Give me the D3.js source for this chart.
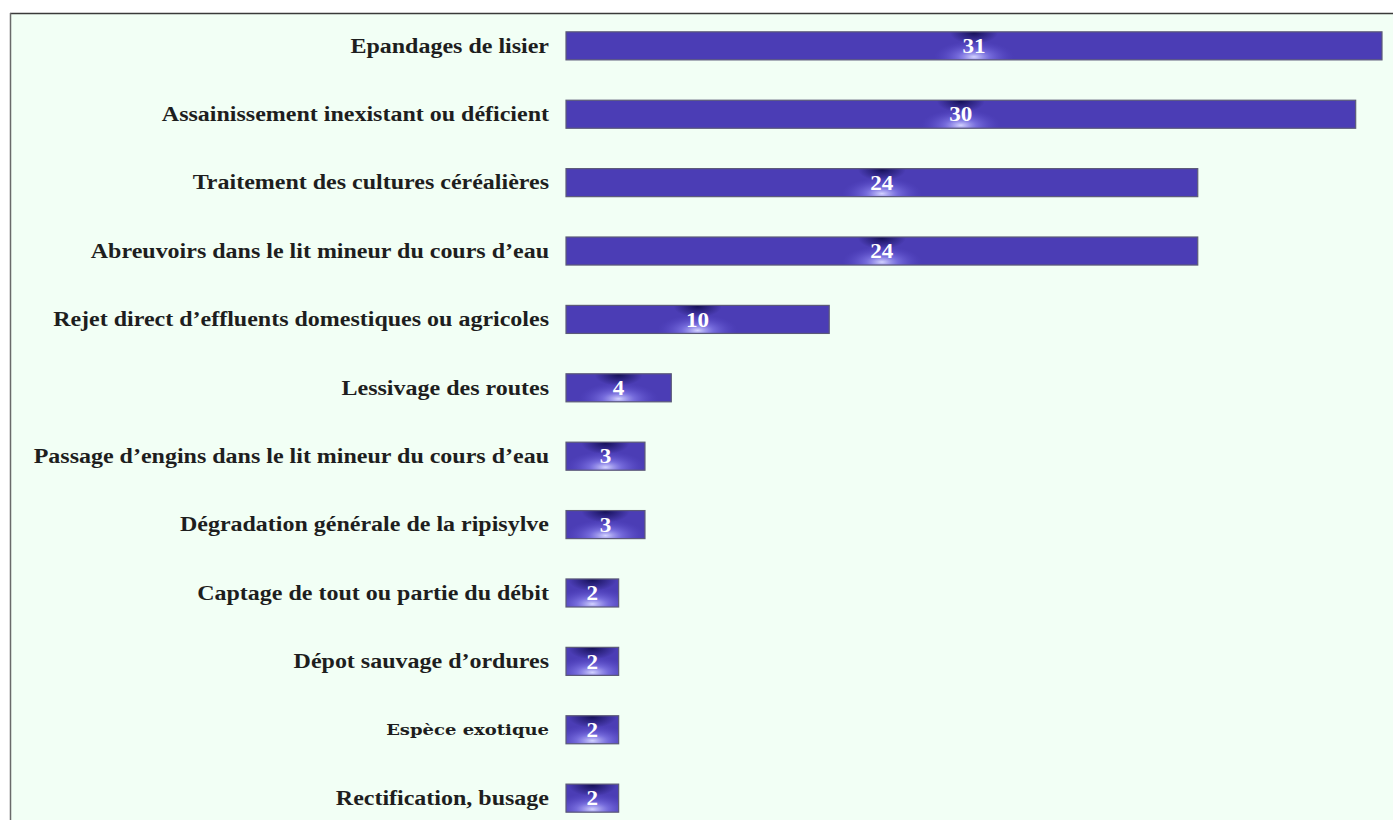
<!DOCTYPE html>
<html>
<head>
<meta charset="utf-8">
<script src="https://cdn.jsdelivr.net/npm/d3@7"></script>
<style>
  html, body { margin: 0; padding: 0; background: #ffffff; }
  svg { display: block; }
</style>
</head>
<body>
<svg id="chart" width="1393" height="820"></svg>
<script>
// Pressures observed along the watercourse (number of occurrences)
const categories = [
  "Epandages de lisier",
  "Assainissement inexistant ou déficient",
  "Traitement des cultures céréalières",
  "Abreuvoirs dans le lit mineur du cours d’eau",
  "Rejet direct d’effluents domestiques ou agricoles",
  "Lessivage des routes",
  "Passage d’engins dans le lit mineur du cours d’eau",
  "Dégradation générale de la ripisylve",
  "Captage de tout ou partie du débit",
  "Dépot sauvage d’ordures",
  "Espèce exotique",
  "Rectification, busage"
];
const counts = [31, 30, 24, 24, 10, 4, 3, 3, 2, 2, 2, 2];

const W = 1393, H = 820;
const svg = d3.select("#chart");

// Panel background and frame
svg.append("rect").attr("x", 10).attr("y", 13).attr("width", W - 10).attr("height", H - 13)
  .attr("fill", "#f2fff5");
svg.append("line").attr("x1", 10).attr("x2", W).attr("y1", 13.5).attr("y2", 13.5)
  .attr("stroke", "#3a3a3a").attr("stroke-width", 1.5);
svg.append("line").attr("x1", 10.5).attr("x2", 10.5).attr("y1", 13).attr("y2", H)
  .attr("stroke", "#6a6a6a").attr("stroke-width", 1.5);

const x = d3.scaleLinear().domain([0, 31]).range([566, 1382]);
const y = d3.scaleBand().domain(categories).range([12, 832]).paddingInner(0.59).paddingOuter(0.29);

const defs = svg.append("defs");
// soft light glow under the value label
const glow = defs.append("radialGradient").attr("id", "glow");
glow.append("stop").attr("offset", "0%").attr("stop-color", "#d4d4ff").attr("stop-opacity", 1);
glow.append("stop").attr("offset", "40%").attr("stop-color", "#9088f4").attr("stop-opacity", 0.6);
glow.append("stop").attr("offset", "100%").attr("stop-color", "#5a4cd0").attr("stop-opacity", 0);
// darker shade above the value label
const shade = defs.append("radialGradient").attr("id", "shade");
shade.append("stop").attr("offset", "0%").attr("stop-color", "#100c50").attr("stop-opacity", 0.9);
shade.append("stop").attr("offset", "100%").attr("stop-color", "#100c50").attr("stop-opacity", 0);

const serif = "'Liberation Serif', 'Times New Roman', serif";

const rows = svg.append("g").selectAll("g.row")
  .data(categories.map((c, i) => ({ cat: c, v: counts[i], i })))
  .join("g").attr("class", "row");

rows.each(function (d) {
  const g = d3.select(this);
  const y0 = y(d.cat), bh = y.bandwidth();
  const x0 = x(0), x1 = x(d.v), cx = (x0 + x1) / 2;
  const clipId = "clip" + d.i;
  defs.append("clipPath").attr("id", clipId)
    .append("rect").attr("x", x0).attr("y", y0).attr("width", x1 - x0).attr("height", bh);

  g.append("rect").attr("x", x0).attr("y", y0).attr("width", x1 - x0).attr("height", bh)
    .attr("fill", "#4b3db5");
  const fx = g.append("g").attr("clip-path", `url(#${clipId})`);
  fx.append("ellipse").attr("cx", cx).attr("cy", y0 + 1).attr("rx", 24).attr("ry", 11)
    .attr("fill", "url(#shade)");
  fx.append("ellipse").attr("cx", cx).attr("cy", y0 + bh - 3).attr("rx", 40).attr("ry", 16)
    .attr("fill", "url(#glow)");
  g.append("rect").attr("x", x0).attr("y", y0).attr("width", x1 - x0).attr("height", bh)
    .attr("fill", "none").attr("stroke", "#5c5a78").attr("stroke-width", 1.2);

  g.append("text")
    .attr("transform", `translate(${cx},${y0 + bh / 2}) scale(1.1,1)`)
    .attr("dy", "0.34em")
    .attr("text-anchor", "middle")
    .attr("font-family", serif)
    .attr("font-weight", "bold").attr("font-size", 21)
    .attr("fill", "#ffffff")
    .text(d.v);
});

// Category labels, right-aligned against the bars (wide-set lettering)
svg.append("g").selectAll("text")
  .data(categories)
  .join("text")
  .attr("transform", d => `translate(549,${y(d) + y.bandwidth() / 2}) scale(1.2,1)`)
  .attr("dy", "0.34em")
  .attr("text-anchor", "end")
  .attr("font-family", d => d === "Espèce exotique" ? "'DejaVu Serif', serif" : serif)
  .attr("font-weight", "bold")
  .attr("font-size", d => d === "Espèce exotique" ? 15 : 20)
  .attr("fill", "#1e1e1e")
  .text(d => d);
</script>
</body>
</html>
